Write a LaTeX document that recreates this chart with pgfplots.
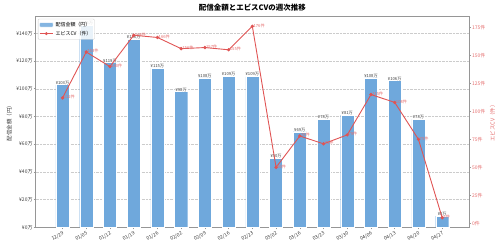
\documentclass[border=0pt]{standalone}
\usepackage{fontspec}
\setmainfont{Noto Sans CJK JP}
\usepackage{pgfplots}
\pgfplotsset{compat=1.18}
\definecolor{barblue}{RGB}{111,168,220}
\definecolor{linered}{RGB}{224,84,84}
\definecolor{spine}{RGB}{150,150,150}
\definecolor{ticktext}{RGB}{60,60,60}
\newcommand{\tfont}{\fontsize{5}{6}\selectfont}
\newcommand{\sfont}{\fontsize{4.2}{5}\selectfont}
\begin{document}
\begin{tikzpicture}
\pgfplotsset{every axis/.append style={/pgf/number format/assume math mode=true,
  /pgf/number format/fixed, /pgf/number format/precision=0}}
\begin{axis}[name=ax, scale only axis, width=433.3bp, height=210.6bp,
  xmin=-1.13, xmax=17.13, ymin=0, ymax=152,
  axis line style={spine, line width=0.8bp},
  xtick={0,...,16},
  xticklabels={12/29,01/05,01/12,01/19,01/26,02/02,02/09,02/16,02/23,03/02,03/16,03/23,03/30,04/06,04/13,04/20,04/27},
  x tick label style={rotate=30, anchor=north east, font=\tfont, color=ticktext, inner sep=1pt},
  ytick={0,20,...,140}, yticklabel={¥\pgfmathprintnumber{\tick}万},
  y tick label style={font=\tfont, color=ticktext, inner sep=1pt},
  tick align=outside, major tick length=2bp, tick style={spine, line width=0.6bp},
  ytick pos=left, xtick pos=bottom,
  ymajorgrids, grid style={densely dotted, black!20, line width=0.4bp},
  ylabel={配信金額（円）}, ylabel style={font=\fontsize{5.5}{6}\selectfont, color=ticktext},
  legend style={at={(0.005,0.99)}, anchor=north west, font=\tfont, draw=black!20,
    fill=white, fill opacity=0.85, text opacity=1, rounded corners=1bp, inner sep=1pt,
    row sep=-1pt, legend cell align=left},
  legend image post style={scale=0.8},
]
\addplot[ybar, bar width=0.55, fill=barblue, draw=white, line width=0.3bp, area legend,
  nodes near coords={¥\pgfmathprintnumber{\pgfplotspointmeta}万},
  every node near coord/.append style={font=\sfont, color=black!75, fill=white,
    fill opacity=0.7, text opacity=1, inner sep=0.4pt, yshift=-0.5bp}]
coordinates {
(0,103) (1,146) (2,119) (3,136) (4,115) (5,98) (6,108) (7,109) (8,109)
(9,50) (10,69) (11,78) (12,81) (13,108) (14,106) (15,78) (16,8)
};
\addlegendentry{配信金額（円）}
\addlegendimage{linered, line width=0.9bp, mark=*, mark size=1.2bp}
\addlegendentry{エビスCV（件）}
\end{axis}
\begin{axis}[scale only axis, width=433.3bp, height=210.6bp,
  xmin=-1.13, xmax=17.13, ymin=-3.55, ymax=184.55,
  axis y line*=right, axis x line=none,
  axis line style={spine, line width=0.8bp},
  ytick={0,25,...,175}, yticklabel={\pgfmathprintnumber{\tick}件},
  y tick label style={font=\tfont, color=linered!85, inner sep=1pt},
  tick align=outside, major tick length=2bp, tick style={spine, line width=0.6bp},
  ylabel={エビスCV（件）}, ylabel style={font=\fontsize{5.5}{6}\selectfont, color=linered!85},
]
\addplot[linered, line width=0.9bp, mark=*, mark size=1.2bp,
  nodes near coords={\pgfmathprintnumber{\pgfplotspointmeta}件},
  every node near coord/.append style={anchor=west, font=\sfont, color=linered!85,
    xshift=0.3bp, yshift=0.8bp, inner sep=0.5pt}]
coordinates {
(0,112) (1,153) (2,140) (3,168) (4,166) (5,156) (6,157) (7,155) (8,176)
(9,50) (10,78) (11,71) (12,79) (13,115) (14,108) (15,75) (16,5)
};
\end{axis}
\node[font=\bfseries\fontsize{7.5}{8}\selectfont] at ([yshift=9.5bp]ax.north) {配信金額とエビスCVの週次推移};
\pgfresetboundingbox
\path ([shift={(-35.7bp,-20.7bp)}]ax.south west) rectangle ([shift={(31bp,16.7bp)}]ax.north east);
\end{tikzpicture}
\end{document}
